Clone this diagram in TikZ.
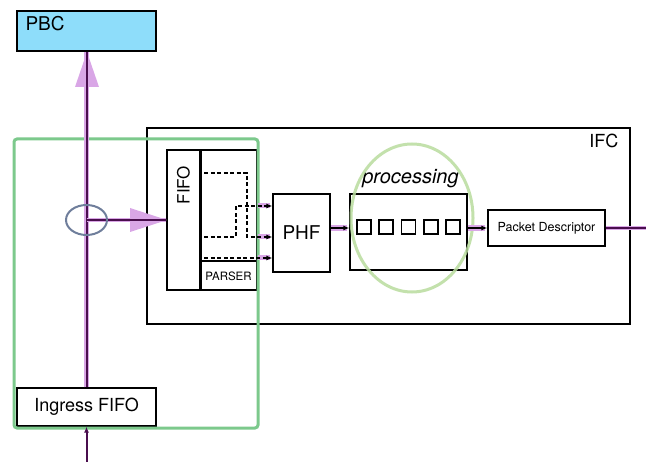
\documentclass[tikz,border=0pt]{standalone}
\usepackage{fontspec}
\setmainfont{TeX Gyre Heros}
\usetikzlibrary{arrows.meta,calc}
\definecolor{pbcblue}{HTML}{8EDDFA}
\definecolor{grn}{HTML}{7CC98C}
\definecolor{lgrn}{HTML}{B9DC9E}
\definecolor{pinkglow}{HTML}{D9A6E6}
\definecolor{dpurp}{HTML}{4A0E4E}
\definecolor{ellc}{HTML}{6F7E9B}
\tikzset{
  box/.style={draw=black, line width=1.3bp, inner sep=0pt, fill=white},
  txt/.style={inner sep=0pt, font=\fontsize{18bp}{20bp}\selectfont},
  glow/.style={draw=pinkglow, line width=6bp},
  wire/.style={draw=pinkglow, line width=1.3bp, double=dpurp, double distance=2bp},
  sarrow/.style={draw=black, line width=1.2bp, -{Latex[length=6bp,width=5bp]}},
  dsh/.style={draw=black, line width=1.1bp, dash pattern=on 4bp off 2.5bp, -{Latex[length=6bp,width=5bp]}},
  sq/.style={draw=black, line width=1.6bp, minimum width=14bp, minimum height=14bp, inner sep=0pt},
  bigtip/.style={fill=pinkglow, draw=none}
}
\begin{document}
\begin{tikzpicture}[x=1bp,y=-1bp]
\useasboundingbox (0,0) rectangle (646,462);
% main boxes
\node[box, fill=pbcblue, minimum width=139bp, minimum height=40bp] (PBC) at (86.5,31) {};
\node[txt, anchor=north west, font=\fontsize{19bp}{21bp}\selectfont] (PBClbl) at ($(PBC.north west)+(9,6)$) {PBC};
\node[box, minimum width=483bp, minimum height=196bp] (IFC) at (388.5,226) {};
\node[txt, anchor=north east] (IFClbl) at ($(IFC.north east)+(-12,7)$) {IFC};
\node[box, minimum width=33bp, minimum height=140bp] (FIFO) at (183.5,220) {};
\node[box, minimum width=57bp, minimum height=140bp] (Parser) at (228.5,220) {};
\draw[line width=2.2bp] (FIFO.north east) -- (FIFO.south east);
\draw[line width=1.3bp] (Parser.west |- 0,261) coordinate (pl) -- (Parser.east |- 0,261) coordinate (pr);
\node[txt, rotate=90, font=\fontsize{17bp}{19bp}\selectfont] (FIFOlbl) at (183.5,185) {FIFO};
\node[txt, font=\fontsize{11.5bp}{13bp}\selectfont] (PARSERlbl) at (228.5,276) {PARSER};
\node[box, minimum width=57bp, minimum height=78bp] (PHF) at (301.5,233) {};
\node[txt, font=\fontsize{19bp}{21bp}\selectfont] (PHFlbl) at (PHF.center) {PHF};
\node[box, minimum width=117bp, minimum height=76bp] (Proc) at (408.5,232) {};
\node[txt, font=\fontsize{20bp}{22bp}\selectfont\itshape, anchor=south] (proclbl) at ($(Proc.north)+(2,-5)$) {processing};
\foreach \i in {0,...,4} {
  \node[sq] (s\i) at ($(Proc.center)+({22.25*(\i-2)},-5)$) {};
}
\node[box, minimum width=117bp, minimum height=36bp] (PD) at (546.5,228) {};
\node[txt, font=\fontsize{12.5bp}{14bp}\selectfont] (PDlbl) at (PD.center) {Packet Descriptor};
\node[box, minimum width=139bp, minimum height=38bp] (Ingress) at (86.5,407) {};
\node[txt, font=\fontsize{18bp}{20bp}\selectfont] (Inglbl) at (Ingress.center) {Ingress FIFO};
% green processing ellipse
\draw[lgrn, line width=3bp, opacity=0.85] (412,218) ellipse [x radius=61, y radius=74];
% green region
\draw[grn, line width=3bp, rounded corners=3bp] (14,139) rectangle (258,428);
% pink tips
\fill[bigtip] (87,52) -- (99,87) -- (75,87) -- cycle;
\fill[bigtip] (167,220) -- (130,232) -- (130,208) -- cycle;
% main wires
\coordinate (tap) at (86.5,220);
\draw[wire] (Ingress.north) -- (PBC.south);
\draw[wire] (tap) -- (FIFO.west);
\draw[ellc, line width=2bp] (tap) ellipse [x radius=20.5, y radius=15];
% input
\coordinate (in) at (86.5,462);
\draw[draw=dpurp, line width=2bp, -{Latex[length=6bp,width=5bp]}] (in) -- (Ingress.south);
% parser dashed outputs
\coordinate (d1) at ($(Parser.west)+(5,-47)$);
\coordinate (d2) at ($(Parser.west)+(5,17)$);
\coordinate (d3) at ($(Parser.west)+(5,38)$);
\foreach \y in {206,237,258} {
  \draw[glow, line width=5bp] (Parser.east |- 0,\y) -- ($(PHF.west |- 0,\y)+(-2,0)$);
}
\draw[dsh] (d1) -| (247,237) -- (PHF.west |- 0,237);
\draw[dsh] (d2) -- (236,237) |- (PHF.west |- 0,206);
\draw[dsh] (d3) -- (PHF.west |- d3);
% PHF -> processing -> PD
\draw[glow] (PHF.east |- PD.west) -- ($(Proc.west |- PD.west)+(-2,0)$);
\draw[sarrow] (PHF.east |- PD.west) -- (Proc.west |- PD.west);
\draw[glow] (Proc.east |- PD.west) -- ($(PD.west)+(-2,0)$);
\draw[sarrow] (Proc.east |- PD.west) -- (PD.west);
\coordinate (out) at (646,228);
\draw[wire] (PD.east) -- (out);
\end{tikzpicture}
\end{document}
